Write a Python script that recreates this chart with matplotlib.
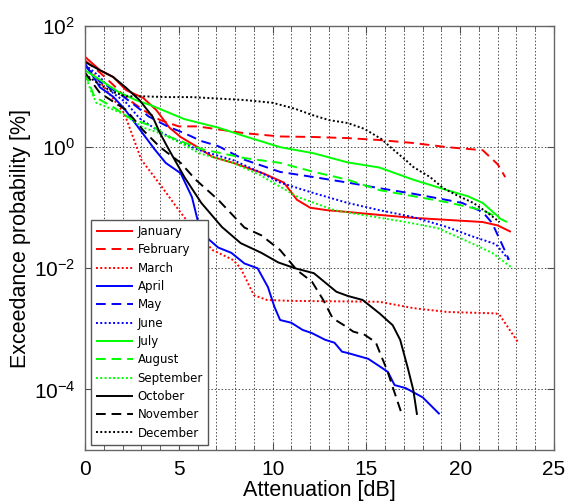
import matplotlib
matplotlib.use('Agg')
import matplotlib.pyplot as plt
from matplotlib.ticker import MultipleLocator, FixedLocator, NullLocator

plt.rcParams['mathtext.fontset'] = 'custom'
plt.rcParams['mathtext.rm'] = 'Liberation Sans'
plt.rcParams['font.family'] = ['Liberation Sans', 'DejaVu Sans']

months = ['January', 'February', 'March', 'April', 'May', 'June', 'July',
          'August', 'September', 'October', 'November', 'December']
colors = ['#ff0000'] * 3 + ['#0000ff'] * 3 + ['#00ff00'] * 3 + ['#000000'] * 3

jan_x = [0, 0.8, 1.5, 2.2, 3.1, 3.8, 4.5, 5.1, 6.0, 6.8, 7.9, 9.5, 10.6, 11.3, 12.0, 12.9, 14.0, 15.7, 17.5, 19.3, 21.2, 22.0, 22.7]
jan_y = [31, 18.6, 14.4, 8.7, 6.5, 4.1, 2.1, 1.47, 1.0, 0.69, 0.55, 0.37, 0.26, 0.135, 0.10, 0.091, 0.085, 0.076, 0.068, 0.063, 0.058, 0.051, 0.040]

feb_x = [0, 0.8, 1.5, 2.2, 3.1, 4.0, 5.0, 6.0, 8.5, 10.4, 12.2, 14.0, 15.7, 17.5, 19.3, 21.2, 22.0, 22.4]
feb_y = [27, 17, 10.7, 6.5, 4.1, 2.8, 2.2, 2.2, 1.7, 1.5, 1.47, 1.41, 1.31, 1.17, 1.0, 0.89, 0.52, 0.32]

mar_x = [0, 1.0, 2.1, 3.0, 4.1, 5.0, 5.9, 6.8, 7.9, 8.3, 9.0, 9.7, 10.9, 15.7, 17.5, 19.3, 21.9, 22.1, 23.1]
mar_y = [23, 10, 3.6, 0.62, 0.22, 0.091, 0.04, 0.02, 0.0137, 0.01, 0.0036, 0.003, 0.0029, 0.0028, 0.0022, 0.0019, 0.0018, 0.0017, 0.00059]

apr_x = [0, 0.8, 1.5, 2.1, 2.8, 3.7, 4.3, 5.1, 5.7, 6.0, 6.6, 7.1, 7.8, 8.5, 9.2, 9.75, 10.1, 10.4, 11.0, 11.6, 12.1, 12.8, 13.3, 13.7, 14.0, 15.1, 15.8, 16.15, 16.5, 17.1, 18.0, 18.9]
apr_y = [24, 9.7, 6.8, 4.3, 2.2, 0.93, 0.55, 0.37, 0.15, 0.063, 0.030, 0.022, 0.018, 0.012, 0.01, 0.0049, 0.0023, 0.0014, 0.00126, 0.00096, 0.00085, 0.00066, 0.00059, 0.00042, 0.0004, 0.00032, 0.00023, 0.000194, 0.000118, 0.000105, 0.000074, 0.000039]

may_x = [0, 0.8, 1.8, 2.7, 3.4, 4.4, 5.3, 6.2, 7.1, 8.5, 10.4, 12.2, 14.0, 15.7, 17.5, 19.3, 20.1, 21.2, 21.7, 22.2, 22.6]
may_y = [22, 12, 7.8, 4.8, 3.2, 2.2, 1.7, 1.26, 1.04, 0.62, 0.39, 0.32, 0.26, 0.21, 0.17, 0.134, 0.12, 0.085, 0.056, 0.026, 0.0138]

jun_x = [0, 0.8, 1.5, 2.2, 2.9, 4.0, 5.1, 6.1, 7.9, 9.3, 10.4, 12.2, 14.0, 15.7, 17.5, 19.3, 20.6, 21.9, 22.6]
jun_y = [23, 14.4, 7.8, 5.4, 3.0, 1.78, 1.2, 0.89, 0.61, 0.39, 0.26, 0.174, 0.12, 0.091, 0.07, 0.048, 0.034, 0.025, 0.0138]

jul_x = [0, 0.8, 1.8, 2.7, 3.6, 5.3, 7.1, 8.5, 10.4, 12.2, 14.0, 15.7, 17.5, 19.3, 20.4, 21.2, 22.1]
jul_y = [18.6, 12.9, 8.1, 6.0, 4.8, 2.9, 2.1, 1.52, 1.0, 0.79, 0.56, 0.46, 0.29, 0.195, 0.155, 0.12, 0.068]

aug_x = [0, 0.5, 1.5, 2.4, 3.6, 4.4, 6.2, 8.5, 10.4, 12.2, 14.0, 15.7, 17.5, 19.3, 21.2, 22.6]
aug_y = [17, 6.8, 4.6, 3.0, 2.2, 1.52, 0.93, 0.66, 0.55, 0.39, 0.29, 0.195, 0.155, 0.123, 0.091, 0.056]

sep_x = [0, 0.3, 0.6, 2.0, 3.1, 4.0, 5.1, 6.1, 7.9, 9.3, 11.35, 13.3, 14.8, 17.1, 18.8, 20.6, 21.7, 22.8]
sep_y = [16, 8.7, 5.4, 3.6, 2.1, 1.7, 1.17, 0.79, 0.55, 0.35, 0.15, 0.091, 0.076, 0.058, 0.046, 0.026, 0.018, 0.01]

oct_x = [0, 0.8, 1.5, 2.2, 2.9, 3.6, 4.0, 4.4, 5.3, 6.2, 7.3, 8.3, 9.4, 10.3, 11.2, 12.2, 13.4, 14.0, 14.8, 15.7, 16.4, 16.8, 17.2, 17.5, 17.7]
oct_y = [25.5, 18.6, 14.4, 9.5, 6.0, 3.2, 1.7, 1.0, 0.32, 0.12, 0.048, 0.026, 0.018, 0.0125, 0.01, 0.0083, 0.0041, 0.0035, 0.003, 0.0018, 0.00115, 0.00066, 0.00023, 0.000098, 0.000038]

nov_x = [0, 0.8, 2.2, 3.1, 4.0, 5.1, 5.9, 7.1, 8.5, 9.4, 10.4, 11.3, 12.1, 12.7, 13.2, 13.9, 14.3, 14.9, 15.5, 15.8, 16.1, 16.4, 16.9]
nov_y = [17, 7.8, 4.1, 1.9, 1.0, 0.55, 0.29, 0.135, 0.047, 0.035, 0.02, 0.0093, 0.006, 0.003, 0.0015, 0.0011, 0.0009, 0.0008, 0.0006, 0.00035, 0.00021, 0.00011, 0.000038]

dec_x = [0, 0.8, 1.5, 2.2, 3.1, 4.4, 5.7, 8.5, 10.0, 11.2, 12.1, 13.0, 14.0, 14.9, 15.8, 16.4, 17.1, 17.5, 18.4, 19.1, 19.8, 20.7, 21.4, 22.1]
dec_y = [16, 10.7, 8.1, 6.9, 6.9, 6.7, 6.7, 6.0, 5.4, 4.3, 3.4, 2.8, 2.5, 2.0, 1.36, 0.93, 0.61, 0.47, 0.32, 0.21, 0.162, 0.12, 0.085, 0.058]

series_x = [jan_x, feb_x, mar_x, apr_x, may_x, jun_x, jul_x, aug_x, sep_x, oct_x, nov_x, dec_x]
series_y = [jan_y, feb_y, mar_y, apr_y, may_y, jun_y, jul_y, aug_y, sep_y, oct_y, nov_y, dec_y]
styles = [(0, ()), (0, (5, 3)), (0, (1, 1.2))] * 4

fig = plt.figure(figsize=(5.76, 5.04), dpi=100)
ax = fig.add_axes([85 / 576, 54 / 504, 469 / 576, 424 / 504])

for name, xs, ys, c, ls in zip(months, series_x, series_y, colors, styles):
    ax.plot(xs, ys, color=c, linestyle=ls, linewidth=1.4, label=name)

ax.set_yscale('log')
ax.set_xlim(0, 25)
ax.set_ylim(1e-5, 1e2)
ax.xaxis.set_major_locator(MultipleLocator(5))
ax.xaxis.set_minor_locator(MultipleLocator(1))
ax.yaxis.set_major_locator(FixedLocator([1e-4, 1e-2, 1e0, 1e2]))
ax.yaxis.set_minor_locator(NullLocator())
ax.set_yticklabels([r'$\mathregular{10^{-4}}$', r'$\mathregular{10^{-2}}$',
                    r'$\mathregular{10^{0}}$', r'$\mathregular{10^{2}}$'])

gcol = '#4d4d4d'
ax.grid(True, which='major', axis='both', color=gcol, linestyle=(0, (1.5, 2)), linewidth=0.7)
ax.grid(True, which='minor', axis='x', color=gcol, linestyle=(0, (1.5, 2)), linewidth=0.7)
ax.tick_params(which='both', direction='in', top=True, right=True, color=gcol,
               labelsize=15, pad=7)
ax.tick_params(which='major', length=5)
ax.tick_params(which='minor', length=3)
for s in ax.spines.values():
    s.set_color('#666666')
    s.set_linewidth(1.0)

ax.set_xlabel('Attenuation [dB]', fontsize=15.5, labelpad=1)
ax.set_ylabel('Exceedance probability [%]', fontsize=15.5, labelpad=2)

leg = ax.legend(loc='lower left', bbox_to_anchor=(0.0125, 0.012), borderaxespad=0,
                prop={'family': 'DejaVu Sans', 'size': 8.5}, handlelength=3.1,
                labelspacing=0.45, fancybox=False, framealpha=1, edgecolor='#555555',
                borderpad=0.45, handletextpad=0.4)
leg.get_frame().set_linewidth(1.0)

fig.savefig('out.png', dpi=100)
